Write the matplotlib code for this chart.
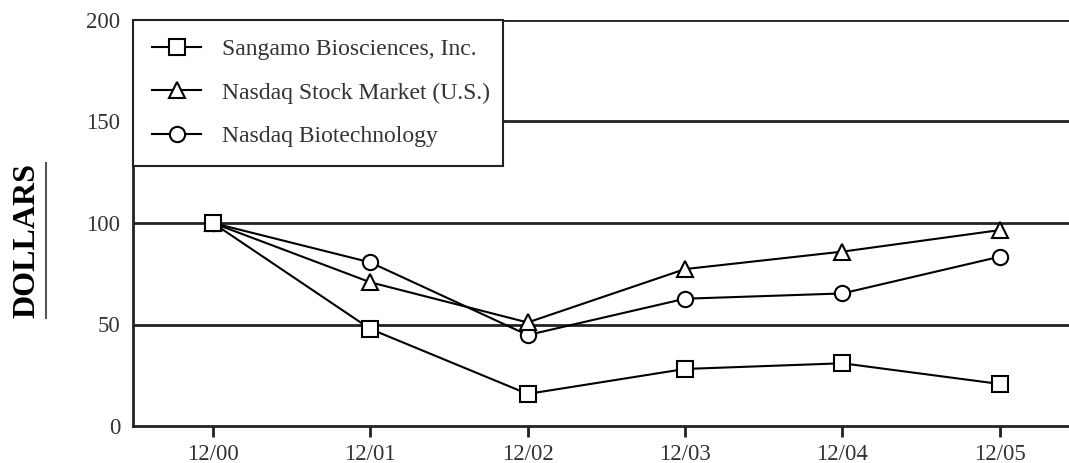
import matplotlib.pyplot as plt
from matplotlib.lines import Line2D

plt.rcParams['font.family'] = ['Liberation Serif', 'DejaVu Serif']

periods = ['12/00', '12/01', '12/02', '12/03', '12/04', '12/05']
sangamo = [100, 47.8, 15.8, 28.1, 30.9, 20.7]
nasdaq_market = [100, 70.8, 51.0, 77.3, 85.9, 96.5]
nasdaq_biotech = [100, 80.6, 44.8, 62.7, 65.3, 83.4]
y_ticks = [0, 50, 100, 150, 200]

fig = plt.figure(figsize=(10.69, 4.63), dpi=100)
ax = fig.add_axes([133 / 1069, 1 - 426 / 463, 1 - 133 / 1069, (426 - 20) / 463])

x = list(range(len(periods)))
mk = dict(color='black', lw=1.5, markersize=11, markerfacecolor='white',
          markeredgecolor='black', markeredgewidth=1.5, clip_on=False, zorder=5)
ax.plot(x, nasdaq_biotech, marker='o', label='Nasdaq Biotechnology', **mk)
ax.plot(x, nasdaq_market, marker='^', label='Nasdaq Stock Market (U.S.)', **mk)
ax.plot(x, sangamo, marker='s', label='Sangamo Biosciences, Inc.', **mk)

for v in y_ticks[1:]:
    ax.axhline(v, color='#222222', lw=2, zorder=1)

ax.set_xlim(-0.508, 5.44)
ax.set_ylim(0, 200)
ax.set_xticks(x)
ax.set_xticklabels(periods)
ax.set_yticks(y_ticks)
ax.tick_params(axis='x', direction='out', length=8, width=2, pad=5, labelsize=16.5, color='#222222')
ax.tick_params(axis='y', length=0, pad=9, labelsize=16.5)
for t in ax.get_xticklabels() + ax.get_yticklabels():
    t.set_color('#333333')

for s in ['top', 'right']:
    ax.spines[s].set_visible(False)
ax.spines['left'].set_linewidth(2)
ax.spines['bottom'].set_linewidth(2)
ax.spines['left'].set_color('#222222')
ax.spines['bottom'].set_color('#222222')

handles, labels = ax.get_legend_handles_labels()
order = [2, 1, 0]
leg = ax.legend([handles[i] for i in order], [labels[i] for i in order],
                loc='upper left', bbox_to_anchor=(0, 1, 0.395, 0), mode='expand',
                borderaxespad=0, fancybox=False, framealpha=1, edgecolor='#222222',
                fontsize=17, handlelength=2.1, handletextpad=0.85, labelspacing=0.92,
                borderpad=0.8)
leg.get_frame().set_linewidth(1.5)
leg.set_zorder(10)
for t in leg.get_texts():
    t.set_color('#333333')

fig.text(27 / 1069, 1 - 240 / 463, 'DOLLARS', rotation=90, fontsize=23,
         fontweight='bold', ha='center', va='center')
fig.add_artist(Line2D([46 / 1069, 46 / 1069], [1 - 163 / 463, 1 - 318 / 463],
                      color='#555555', lw=1.5))

fig.savefig('out.png', dpi=100, facecolor='white')
